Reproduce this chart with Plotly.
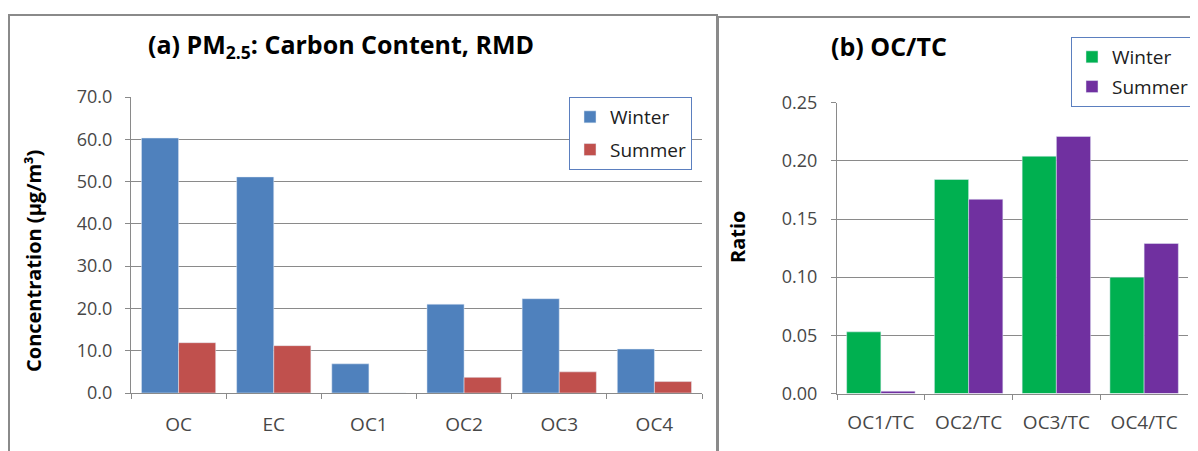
import plotly.graph_objects as go

W, H = 1198, 451
OFF = 8  # page body margin offset

# Panel (a) data
cats_a = ["OC", "EC", "OC1", "OC2", "OC3", "OC4"]
winter_a = [60.3, 51.1, 6.9, 21.0, 22.3, 10.4]
summer_a = [11.9, 11.2, 0.0, 3.7, 5.0, 2.7]
yticks_a = [0, 10, 20, 30, 40, 50, 60, 70]

# Panel (b) data
cats_b = ["OC1/TC", "OC2/TC", "OC3/TC", "OC4/TC"]
winter_b = [0.053, 0.184, 0.204, 0.100]
summer_b = [0.002, 0.167, 0.221, 0.129]
yticks_b = [0.00, 0.05, 0.10, 0.15, 0.20, 0.25]

FONT = "Open Sans"
TICKCOL = "#474747"
GRID = "#8a8a8a"


def px(x):
    return (x - OFF) / W


def py(y):
    return 1 - (y - OFF) / H


fig = go.Figure()
fig.add_trace(go.Bar(x=cats_a, y=winter_a, name="Winter", marker_color="#4F81BD",
                     xaxis="x", yaxis="y", legend="legend", legendgroup="aw"))
fig.add_trace(go.Bar(x=cats_a, y=summer_a, name="Summer", marker_color="#C0504D",
                     xaxis="x", yaxis="y", legend="legend", legendgroup="as"))
fig.add_trace(go.Bar(x=cats_b, y=winter_b, name="Winter", marker_color="#00B050",
                     xaxis="x2", yaxis="y2", legend="legend2", legendgroup="bw"))
fig.add_trace(go.Bar(x=cats_b, y=summer_b, name="Summer", marker_color="#7030A0",
                     xaxis="x2", yaxis="y2", legend="legend2", legendgroup="bs"))

axis_common = dict(showline=True, linecolor=GRID, linewidth=1, automargin=False,
                   ticks="outside", ticklen=5, tickcolor=GRID, zeroline=False)

fig.update_layout(
    width=W, height=H,
    margin=dict(l=0, r=0, t=0, b=0, autoexpand=False),
    paper_bgcolor="white", plot_bgcolor="white",
    barmode="group", bargap=0.22, bargroupgap=0,
    font=dict(family=FONT, color="black"),
    xaxis=dict(domain=[px(131), px(702)], anchor="y", type="category",
               tickson="boundaries", showgrid=False, ticklabelstandoff=14,
               tickfont=dict(family=FONT, size=19, color=TICKCOL), **axis_common),
    yaxis=dict(domain=[py(393), py(97)], anchor="x", range=[0, 70],
               tickvals=yticks_a, ticktext=[f"{v:.1f}" for v in yticks_a],
               showgrid=True, gridcolor=GRID, gridwidth=1, ticklabelstandoff=9,
               tickfont=dict(family=FONT, size=18, color=TICKCOL), **axis_common),
    xaxis2=dict(domain=[px(837), px(1188)], anchor="y2", type="category",
                tickson="boundaries", showgrid=False, ticklabelstandoff=12,
                tickfont=dict(family=FONT, size=19, color=TICKCOL), **axis_common),
    yaxis2=dict(domain=[py(393.5), py(102.7)], anchor="x2", range=[0, 0.25],
                tickvals=yticks_b, ticktext=[f"{v:.2f}" for v in yticks_b],
                showgrid=True, gridcolor=GRID, gridwidth=1, ticklabelstandoff=10,
                tickfont=dict(family=FONT, size=18, color=TICKCOL), **axis_common),
    legend=dict(x=px(569), y=py(97), xanchor="left", yanchor="top",
                bgcolor="white", bordercolor="#5B7FBF", borderwidth=1,
                font=dict(family=FONT, size=19, color="#202020"),
                traceorder="grouped", tracegroupgap=5),
    legend2=dict(x=px(1071), y=py(37), xanchor="left", yanchor="top",
                 bgcolor="white", bordercolor="#5B7FBF", borderwidth=1,
                 font=dict(family=FONT, size=19, color="#202020"),
                 traceorder="grouped", tracegroupgap=2),
    showlegend=True,
)

# Panel borders
fig.add_shape(type="rect", xref="paper", yref="paper",
              x0=px(9), x1=px(717), y0=py(452), y1=py(15),
              line=dict(color="#8a8a8a", width=2), layer="below")
fig.add_shape(type="rect", xref="paper", yref="paper",
              x0=px(718), x1=px(1212), y0=py(460), y1=py(17),
              line=dict(color="#8a8a8a", width=2), layer="below")

# Titles
fig.add_annotation(text="(a) PM<sub>2.5</sub>: Carbon Content, RMD", xref="paper", yref="paper",
                   x=px(341), y=py(45), xanchor="center", yanchor="middle", showarrow=False,
                   font=dict(family=FONT, size=25, color="black", weight="bold"))
fig.add_annotation(text="(b) OC/TC", xref="paper", yref="paper",
                   x=px(889), y=py(46), xanchor="center", yanchor="middle", showarrow=False,
                   font=dict(family=FONT, size=25, color="black", weight="bold"))

# Axis titles
fig.add_annotation(text="Concentration (µg/m³)", xref="paper", yref="paper",
                   x=px(33), y=py(261), xanchor="center", yanchor="middle", showarrow=False,
                   textangle=-90,
                   font=dict(family=FONT, size=20, color="black", weight="bold"))
fig.add_annotation(text="Ratio", xref="paper", yref="paper",
                   x=px(737), y=py(237), xanchor="center", yanchor="middle", showarrow=False,
                   textangle=-90,
                   font=dict(family=FONT, size=20, color="black", weight="bold"))

fig.write_html("out.html")
